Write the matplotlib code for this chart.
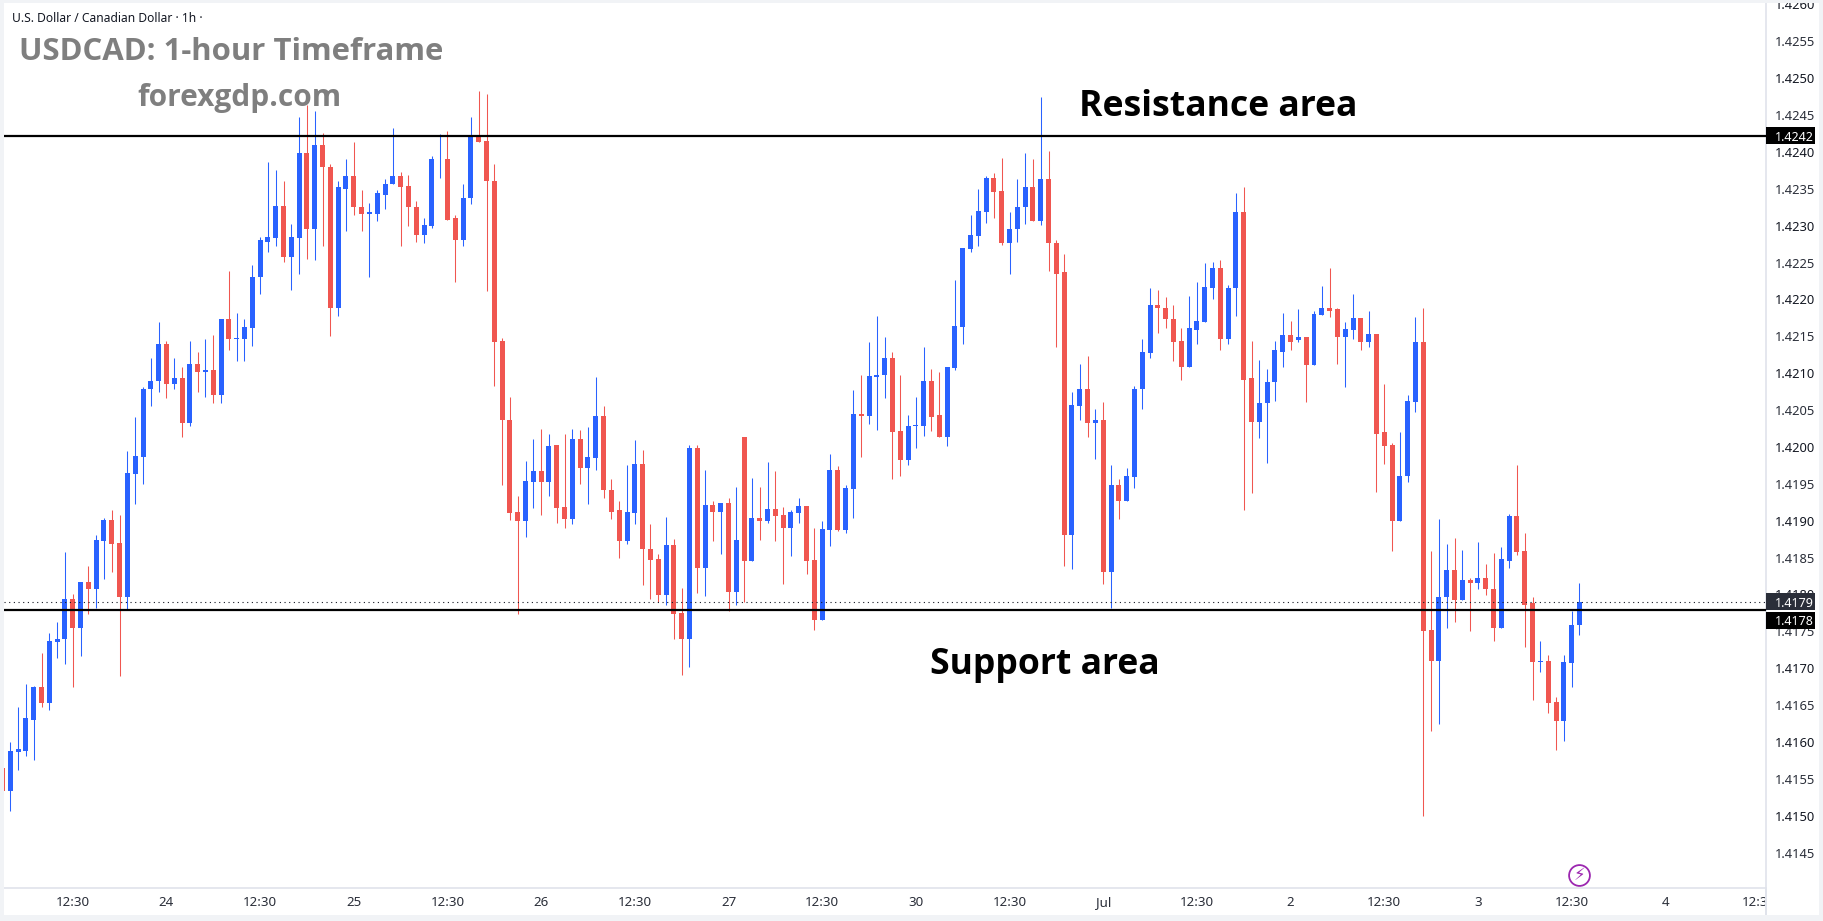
import matplotlib
matplotlib.use("Agg")
import matplotlib.pyplot as plt
from matplotlib.patches import Rectangle
import numpy as np

# Hourly USD/CAD candles, first one sits partly off the left edge
opens = [1.41565,
    1.41534, 1.41587, 1.41588, 1.41630, 1.41675, 1.41653, 1.41736, 1.41739, 1.41794, 1.41754,
    1.41817, 1.41808, 1.41873, 1.41901, 1.41870, 1.41797, 1.41964, 1.41987, 1.42078, 1.42089,
    1.42140, 1.42086, 1.42094, 1.42032, 1.42113, 1.42101, 1.42105, 1.42070, 1.42174, 1.42146,
    1.42147, 1.42162, 1.42230, 1.42278, 1.42284, 1.42327, 1.42257, 1.42284, 1.42399, 1.42295,
    1.42410, 1.42380, 1.42188, 1.42350, 1.42367, 1.42326, 1.42316, 1.42316, 1.42342, 1.42356,
    1.42368, 1.42354, 1.42326, 1.42287, 1.42300, 1.42390, 1.42391, 1.42310, 1.42281, 1.42337,
    1.42422, 1.42415, 1.42361, 1.42144, 1.42037, 1.41912, 1.41899, 1.41953, 1.41967, 1.41952,
    1.42002, 1.41919, 1.41903, 1.42011, 1.41972, 1.41985, 1.42042, 1.41942, 1.41914, 1.41873,
    1.41910, 1.41977, 1.41862, 1.41848, 1.41799, 1.41867, 1.41775, 1.41740, 1.41999, 1.41836,
    1.41921, 1.41912, 1.41924, 1.41804, 1.42014, 1.41846, 1.41904, 1.41900, 1.41916, 1.41908,
    1.41890, 1.41910, 1.41920, 1.41847, 1.41766, 1.41888, 1.41969, 1.41888, 1.41943, 1.42045,
    1.42042, 1.42095, 1.42097, 1.42120, 1.42021, 1.41983, 1.42029, 1.42029, 1.42090, 1.42043,
    1.42014, 1.42107, 1.42163, 1.42269, 1.42286, 1.42319, 1.42365, 1.42347, 1.42276, 1.42295,
    1.42325, 1.42353, 1.42307, 1.42364, 1.42277, 1.42237, 1.41880, 1.42056, 1.42079, 1.42032,
    1.42037, 1.41831, 1.41949, 1.41927, 1.41959, 1.42078, 1.42128, 1.42192, 1.42189, 1.42174,
    1.42144, 1.42109, 1.42159, 1.42170, 1.42216, 1.42242, 1.42146, 1.42215, 1.42319, 1.42093,
    1.42034, 1.42059, 1.42088, 1.42129, 1.42152, 1.42145, 1.42149, 1.42111, 1.42179, 1.42189,
    1.42187, 1.42149, 1.42158, 1.42175, 1.42142, 1.42153, 1.42020, 1.42003, 1.41900, 1.41960,
    1.42061, 1.42143, 1.41752, 1.41710, 1.41796, 1.41833, 1.41792, 1.41820, 1.41815, 1.41823,
    1.41808, 1.41755, 1.41846, 1.41906, 1.41859, 1.41788, 1.41709, 1.41710, 1.41654, 1.41628,
    1.41707, 1.41758]
highs = [1.41565,
    1.41600, 1.41648, 1.41679, 1.41676, 1.41721, 1.41748, 1.41763, 1.41858, 1.41801, 1.41817,
    1.41838, 1.41880, 1.41904, 1.41915, 1.41908, 1.41995, 1.42041, 1.42081, 1.42121, 1.42170,
    1.42144, 1.42121, 1.42109, 1.42144, 1.42129, 1.42147, 1.42152, 1.42174, 1.42239, 1.42182,
    1.42174, 1.42247, 1.42285, 1.42387, 1.42375, 1.42361, 1.42303, 1.42448, 1.42464, 1.42455,
    1.42426, 1.42384, 1.42361, 1.42391, 1.42414, 1.42349, 1.42331, 1.42349, 1.42364, 1.42432,
    1.42373, 1.42369, 1.42333, 1.42311, 1.42394, 1.42425, 1.42429, 1.42315, 1.42357, 1.42448,
    1.42483, 1.42479, 1.42384, 1.42148, 1.42068, 1.41933, 1.41981, 1.42011, 1.42025, 1.42018,
    1.42002, 1.42018, 1.42025, 1.42023, 1.42027, 1.42095, 1.42056, 1.41956, 1.41927, 1.41976,
    1.42010, 1.41996, 1.41896, 1.41855, 1.41905, 1.41875, 1.41809, 1.42003, 1.42003, 1.41969,
    1.41927, 1.41924, 1.41931, 1.41946, 1.42014, 1.41958, 1.41946, 1.41980, 1.41967, 1.41919,
    1.41915, 1.41931, 1.41920, 1.41890, 1.41900, 1.41991, 1.41974, 1.41949, 1.42077, 1.42098,
    1.42142, 1.42178, 1.42149, 1.42129, 1.42097, 1.42043, 1.42068, 1.42136, 1.42106, 1.42102,
    1.42109, 1.42227, 1.42270, 1.42314, 1.42350, 1.42367, 1.42371, 1.42392, 1.42319, 1.42364,
    1.42399, 1.42391, 1.42475, 1.42402, 1.42281, 1.42262, 1.42075, 1.42113, 1.42124, 1.42052,
    1.42061, 1.41976, 1.41957, 1.41971, 1.42083, 1.42146, 1.42215, 1.42213, 1.42203, 1.42193,
    1.42162, 1.42205, 1.42224, 1.42250, 1.42251, 1.42253, 1.42220, 1.42345, 1.42352, 1.42144,
    1.42118, 1.42106, 1.42144, 1.42182, 1.42171, 1.42187, 1.42149, 1.42185, 1.42218, 1.42243,
    1.42188, 1.42169, 1.42208, 1.42175, 1.42184, 1.42153, 1.42086, 1.42006, 1.42020, 1.42070,
    1.42176, 1.42189, 1.41859, 1.41902, 1.41869, 1.41877, 1.41860, 1.41822, 1.41871, 1.41841,
    1.41856, 1.41864, 1.41909, 1.41976, 1.41883, 1.41797, 1.41737, 1.41718, 1.41661, 1.41718,
    1.41778, 1.41816]
lows = [1.41534,
    1.41506, 1.41562, 1.41581, 1.41576, 1.41648, 1.41644, 1.41714, 1.41706, 1.41675, 1.41716,
    1.41774, 1.41781, 1.41821, 1.41831, 1.41689, 1.41779, 1.41923, 1.41950, 1.42056, 1.42075,
    1.42066, 1.42079, 1.42014, 1.42028, 1.42075, 1.42068, 1.42060, 1.42060, 1.42131, 1.42117,
    1.42116, 1.42137, 1.42207, 1.42264, 1.42273, 1.42251, 1.42213, 1.42234, 1.42255, 1.42254,
    1.42272, 1.42151, 1.42177, 1.42293, 1.42314, 1.42293, 1.42231, 1.42306, 1.42323, 1.42356,
    1.42273, 1.42300, 1.42278, 1.42276, 1.42297, 1.42365, 1.42308, 1.42224, 1.42272, 1.42330,
    1.42414, 1.42212, 1.42083, 1.41949, 1.41901, 1.41774, 1.41878, 1.41917, 1.41908, 1.41934,
    1.41897, 1.41890, 1.41896, 1.41950, 1.41923, 1.41969, 1.41931, 1.41903, 1.41850, 1.41868,
    1.41896, 1.41813, 1.41794, 1.41790, 1.41786, 1.41740, 1.41691, 1.41702, 1.41802, 1.41798,
    1.41872, 1.41855, 1.41778, 1.41786, 1.41790, 1.41846, 1.41874, 1.41897, 1.41872, 1.41814,
    1.41852, 1.41897, 1.41828, 1.41752, 1.41766, 1.41866, 1.41886, 1.41883, 1.41904, 1.41987,
    1.42031, 1.42023, 1.42067, 1.41957, 1.41960, 1.41975, 1.41999, 1.42015, 1.42022, 1.42013,
    1.42002, 1.42105, 1.42139, 1.42265, 1.42273, 1.42304, 1.42310, 1.42274, 1.42235, 1.42278,
    1.42303, 1.42307, 1.42301, 1.42239, 1.42136, 1.41839, 1.41834, 1.42037, 1.42013, 1.41984,
    1.41814, 1.41781, 1.41902, 1.41927, 1.41945, 1.42051, 1.42121, 1.42154, 1.42162, 1.42117,
    1.42091, 1.42109, 1.42140, 1.42169, 1.42200, 1.42132, 1.42139, 1.42178, 1.41915, 1.41937,
    1.42012, 1.41978, 1.42063, 1.42109, 1.42132, 1.42142, 1.42061, 1.42111, 1.42179, 1.42176,
    1.42112, 1.42082, 1.42146, 1.42131, 1.42136, 1.41939, 1.41977, 1.41859, 1.41900, 1.41953,
    1.42047, 1.41499, 1.41615, 1.41624, 1.41755, 1.41763, 1.41792, 1.41751, 1.41808, 1.41799,
    1.41737, 1.41755, 1.41836, 1.41853, 1.41729, 1.41657, 1.41695, 1.41639, 1.41589, 1.41602,
    1.41675, 1.41745]
closes = [1.41534,
    1.41588, 1.41590, 1.41632, 1.41675, 1.41653, 1.41737, 1.41740, 1.41794, 1.41754, 1.41817,
    1.41808, 1.41874, 1.41901, 1.41869, 1.41797, 1.41965, 1.41988, 1.42079, 1.42090, 1.42140,
    1.42086, 1.42094, 1.42032, 1.42113, 1.42101, 1.42105, 1.42070, 1.42174, 1.42146, 1.42148,
    1.42163, 1.42231, 1.42280, 1.42285, 1.42327, 1.42257, 1.42285, 1.42399, 1.42295, 1.42410,
    1.42379, 1.42188, 1.42352, 1.42367, 1.42325, 1.42316, 1.42318, 1.42344, 1.42357, 1.42368,
    1.42353, 1.42325, 1.42287, 1.42301, 1.42391, 1.42391, 1.42308, 1.42281, 1.42338, 1.42422,
    1.42414, 1.42360, 1.42143, 1.42036, 1.41911, 1.41899, 1.41954, 1.41967, 1.41952, 1.42002,
    1.41917, 1.41903, 1.42011, 1.41972, 1.41987, 1.42042, 1.41941, 1.41912, 1.41873, 1.41912,
    1.41977, 1.41861, 1.41847, 1.41799, 1.41867, 1.41773, 1.41740, 1.41999, 1.41836, 1.41921,
    1.41912, 1.41924, 1.41804, 1.41874, 1.41846, 1.41904, 1.41900, 1.41916, 1.41907, 1.41890,
    1.41912, 1.41920, 1.41846, 1.41766, 1.41889, 1.41969, 1.41888, 1.41945, 1.42045, 1.42042,
    1.42096, 1.42097, 1.42120, 1.42020, 1.41983, 1.42029, 1.42030, 1.42090, 1.42041, 1.42014,
    1.42109, 1.42164, 1.42270, 1.42288, 1.42320, 1.42365, 1.42346, 1.42276, 1.42296, 1.42326,
    1.42353, 1.42307, 1.42364, 1.42276, 1.42235, 1.41880, 1.42057, 1.42079, 1.42032, 1.42037,
    1.41831, 1.41949, 1.41927, 1.41960, 1.42079, 1.42129, 1.42192, 1.42188, 1.42173, 1.42143,
    1.42109, 1.42161, 1.42171, 1.42217, 1.42242, 1.42146, 1.42216, 1.42319, 1.42091, 1.42034,
    1.42060, 1.42088, 1.42131, 1.42152, 1.42143, 1.42149, 1.42111, 1.42180, 1.42189, 1.42185,
    1.42149, 1.42160, 1.42175, 1.42142, 1.42153, 1.42018, 1.42001, 1.41900, 1.41961, 1.42063,
    1.42143, 1.41751, 1.41710, 1.41797, 1.41833, 1.41792, 1.41820, 1.41815, 1.41823, 1.41807,
    1.41755, 1.41848, 1.41906, 1.41857, 1.41786, 1.41709, 1.41710, 1.41653, 1.41628, 1.41709,
    1.41759, 1.41790]

resistance = 1.42422
support = 1.41779
last_price = 1.41790

price_ticks = [1.4145, 1.4150, 1.4155, 1.4160, 1.4165, 1.4170, 1.4175, 1.4180, 1.4185, 1.4190,
               1.4195, 1.4200, 1.4205, 1.4210, 1.4215, 1.4220, 1.4225, 1.4230, 1.4235, 1.4240,
               1.4245, 1.4250, 1.4255, 1.4260]
time_ticks = [8, 20, 32, 44, 56, 68, 80, 92, 104, 116, 128, 140, 152, 164, 176, 188, 200, 212, 224]
time_labels = ["12:30", "24", "12:30", "25", "12:30", "26", "12:30", "27", "12:30", "30",
               "12:30", "Jul", "12:30", "2", "12:30", "3", "12:30", "4", "12:30"]

UP = "#2962FF"
DOWN = "#F05650"
W, H = 1823, 921
FONT = "Noto Sans"

fig = plt.figure(figsize=(W / 100, H / 100), dpi=100, facecolor="white")
ax = fig.add_axes([4 / W, (H - 888) / H, 1762 / W, 885 / H])

# candles
x = np.arange(len(opens)) - 1
o, h, l, c = map(np.array, (opens, highs, lows, closes))
colors = [UP if b >= a else DOWN for a, b in zip(o, c)]
wicks = ax.vlines(x, l, h, colors=colors, linewidth=0.75, zorder=2)
wicks.set_snap(True)
ax.bar(x, np.abs(c - o), bottom=np.minimum(o, c), width=0.64, color=colors, linewidth=0, zorder=3)

ax.set_xlim(-0.807, 224.9)
ax.set_ylim(1.41402, 1.42602)

# support / resistance levels and last price
ax.axhline(resistance, color="black", linewidth=1.6, zorder=4)
ax.axhline(support, color="black", linewidth=1.6, zorder=4)
ax.axhline(last_price, color="#131722", linewidth=0.8, linestyle=(0, (1, 3.2)), zorder=4)

# axes
for name in ("top", "left"):
    ax.spines[name].set_visible(False)
for name in ("bottom", "right"):
    ax.spines[name].set_color("#E0E3EB")
    ax.spines[name].set_linewidth(1.2)

ax.yaxis.tick_right()
ax.set_yticks(price_ticks)
ax.set_yticklabels([f"{p:.4f}" for p in price_ticks], fontsize=9.3, family=FONT, color="#2A2E39")
for p, lab in zip(price_ticks, ax.get_yticklabels()):
    if round(p * 10000) % 10 == 0:
        lab.set_fontweight("bold")
        lab.set_color("#131722")
ax.tick_params(axis="y", length=0, pad=6.5)
ax.set_xticks(time_ticks)
ax.set_xticklabels(time_labels, fontsize=9.6, family=FONT, color="#2A2E39")
ax.get_xticklabels()[11].set_fontweight("bold")
ax.tick_params(axis="x", length=0, pad=6)

# price tags on the scale
px = 885 / (ax.get_ylim()[1] - ax.get_ylim()[0])
tags = [(resistance, 0, "#000000", "1.4242"), (last_price, 0, "#2A2E39", "1.4179"), (support, -10.5 / px, "#000000", "1.4178")]
trans = ax.get_yaxis_transform()
for value, shift, col, txt in tags:
    ax.add_patch(Rectangle((1.0, value + shift - 8.5 / px), 49 / 1762, 17 / px, transform=trans,
                           facecolor=col, edgecolor="none", clip_on=False, zorder=6))
    ax.text(1 + 9 / 1762, value + shift - 1.5 / px, txt, transform=trans, color="white", fontsize=9.0,
            family=FONT, fontweight="bold", va="center", ha="left", clip_on=False, zorder=7)

# header and annotations
ax.text(8 / 1762, 1.42602 - 15 / px, "U.S. Dollar / Canadian Dollar · 1h ·", transform=trans, fontsize=8.7,
        family=FONT, color="#131722", va="center", ha="left")
ax.text(15 / 1762, 1.42602 - 48.5 / px, "USDCAD: 1-hour Timeframe", transform=trans, fontsize=22.4,
        family="Open Sans", fontweight="bold", color="#7F7F7F", va="center", ha="left")
ax.text(133 / 1762, 1.42602 - 95 / px, "forexgdp.com", transform=trans, fontsize=21.5,
        family="Open Sans", fontweight="bold", color="#7F7F7F", va="center", ha="left")
ax.text(1214 / 1762, 1.42602 - 103.5 / px, "Resistance area", transform=trans, fontsize=25.6,
        family="Open Sans", fontweight="bold", color="black", va="center", ha="center", zorder=8)
ax.text(1041 / 1762, 1.42602 - 662.5 / px, "Support area", transform=trans, fontsize=25.6,
        family="Open Sans", fontweight="bold", color="black", va="center", ha="center", zorder=8)

# lightning badge
ax.plot([201], [1.41420], marker="o", ms=15, mfc="white", mec="#9C27B0", mew=1.3, zorder=5, clip_on=False)
ax.text(201, 1.41420, "\u26a1", fontsize=12, color="#9C27B0", family="DejaVu Sans", ha="center", va="center", zorder=6)

# outer frame drawn over everything at figure level
band = "#F1F3F6"
for rx, ry, rw, rh, col in [(0, 0, W, 3, band), (0, 0, 4, H, band), (0, 915, W, 6, band),
                            (1819, 0, 4, H, band), (1767, 889, 52, 26, "white"), (1765, 888, 1.5, 27, "#E0E3EB")]:
    fig.add_artist(Rectangle((rx / W, (H - ry - rh) / H), rw / W, rh / H, transform=fig.transFigure,
                             facecolor=col, edgecolor="none", zorder=20))

fig.savefig("out.png", dpi=100)
